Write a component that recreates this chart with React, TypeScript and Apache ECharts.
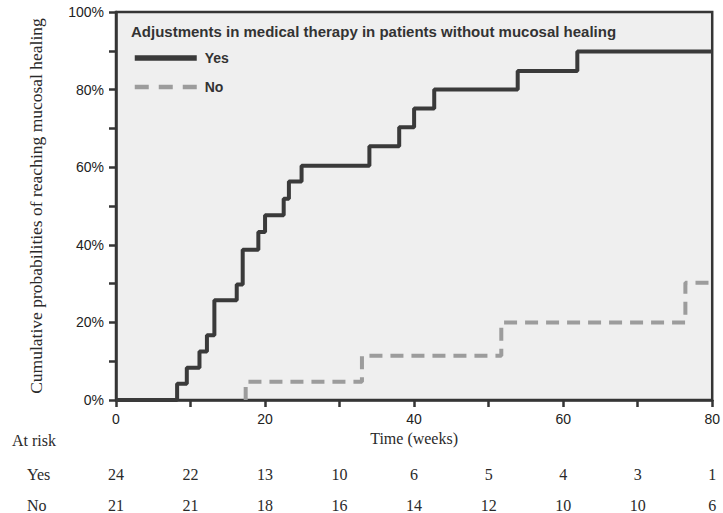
import React, { useEffect, useRef } from "react";
import * as echarts from "echarts";

const yesWeeks = [0, 8.2, 9.5, 11.2, 12.2, 13.2, 16.2, 17.0, 19.1, 20.0, 22.5, 23.2, 24.9, 34.0, 38.0, 40.0, 42.7, 53.9, 61.9, 80];
const yesProb = [0, 4.2, 8.3, 12.5, 16.7, 25.7, 29.8, 38.7, 43.3, 47.6, 51.9, 56.3, 60.4, 65.4, 70.3, 75.1, 80.0, 84.8, 89.8, 89.8];
const noWeeks = [17.4, 17.4, 33.0, 51.7, 76.4, 80];
const noProb = [0, 4.7, 11.4, 20.0, 30.2, 30.2];
const riskTicks = [0, 10, 20, 30, 40, 50, 60, 70, 80];
const yesAtRisk = [24, 22, 13, 10, 6, 5, 4, 3, 1];
const noAtRisk = [21, 21, 18, 16, 14, 12, 10, 10, 6];
const legendTitle = "Adjustments in medical therapy in patients without mucosal healing";

const SANS = "Liberation Sans, Arial, sans-serif";
const SERIF = "Liberation Serif, Times New Roman, serif";
const AX = "#353535";

export default function App() {
  const ref = useRef<HTMLDivElement>(null);
  useEffect(() => {
    if (!ref.current) return;
    const chart = echarts.init(ref.current, null, { renderer: "svg" });
    const riskAxis = (vals: number[], offset: number) => ({
      type: "value",
      gridIndex: 0,
      position: "bottom",
      offset,
      min: 0,
      max: 80,
      interval: 10,
      axisLine: { show: false },
      axisTick: { show: false },
      splitLine: { show: false },
      axisLabel: {
        margin: 3,
        fontFamily: SERIF,
        fontSize: 16,
        color: "#2a2a2a",
        formatter: (v: number) => {
          const i = riskTicks.indexOf(v);
          return i >= 0 ? String(vals[i]) : "";
        },
      },
    });
    chart.setOption({
      animation: false,
      backgroundColor: "#ffffff",
      grid: {
        left: 116,
        right: 7,
        top: 12,
        bottom: 113,
        show: true,
        backgroundColor: "#efefef",
        borderColor: AX,
        borderWidth: 2.5,
      },
      title: {
        text: legendTitle,
        left: 126,
        top: 19,
        textStyle: { fontFamily: SANS, fontSize: 15, fontWeight: "bold", color: "#333" },
      },
      legend: {
        orient: "vertical",
        left: 127,
        top: 46,
        itemWidth: 62,
        itemHeight: 14,
        itemGap: 15,
        itemStyle: { opacity: 0 },
        textStyle: { fontFamily: SANS, fontSize: 14, fontWeight: "bold", color: "#333", padding: [0, 0, 0, 3] },
        data: [
          { name: "Yes", lineStyle: { width: 5.5 } },
          { name: "No", lineStyle: { width: 4.5, type: [14, 10] } },
        ],
      },
      xAxis: [
        {
          type: "value",
          min: 0,
          max: 80,
          interval: 10,
          name: "Time (weeks)",
          nameLocation: "middle",
          nameGap: 29,
          nameTextStyle: { fontFamily: SERIF, fontSize: 16, color: "#2a2a2a" },
          axisLine: { lineStyle: { color: AX, width: 2.5 } },
          axisTick: { length: 7, lineStyle: { color: AX, width: 2.5 } },
          splitLine: { show: false },
          axisLabel: {
            margin: 12,
            fontFamily: SANS,
            fontSize: 14,
            color: "#222",
            formatter: (v: number) => (v % 20 === 0 ? String(v) : ""),
          },
        },
        riskAxis(yesAtRisk, 63),
        riskAxis(noAtRisk, 94),
      ],
      yAxis: {
        type: "value",
        min: 0,
        max: 100,
        interval: 10,
        name: "Cumulative probabilities of reaching mucosal healing",
        nameLocation: "middle",
        nameGap: 71,
        nameTextStyle: { fontFamily: SERIF, fontSize: 17.5, color: "#2a2a2a" },
        axisLine: { show: true, lineStyle: { color: AX, width: 2.5 } },
        axisTick: { show: true, length: 7, lineStyle: { color: AX, width: 2.5 } },
        splitLine: { show: false },
        axisLabel: {
          margin: 12,
          fontFamily: SANS,
          fontSize: 14,
          color: "#222",
          formatter: (v: number) => (v % 20 === 0 ? v + "%" : ""),
        },
      },
      graphic: [
        { type: "text", left: 12, top: 432, style: { text: "At risk", font: `16px ${SERIF}`, fill: "#2a2a2a" } },
        { type: "text", left: 27, top: 466, style: { text: "Yes", font: `16px ${SERIF}`, fill: "#2a2a2a" } },
        { type: "text", left: 27, top: 497, style: { text: "No", font: `16px ${SERIF}`, fill: "#2a2a2a" } },
      ],
      series: [
        {
          name: "Yes",
          type: "line",
          step: "end",
          symbol: "none",
          color: "#3a3a3a",
          lineStyle: { color: "#3a3a3a", width: 4 },
          data: yesWeeks.map((w, i) => [w, yesProb[i]]),
        },
        {
          name: "No",
          type: "line",
          step: "end",
          symbol: "none",
          color: "#9c9c9c",
          lineStyle: { color: "#9c9c9c", width: 4, type: [13, 8] },
          data: noWeeks.map((w, i) => [w, noProb[i]]),
        },
      ],
    });
    return () => chart.dispose();
  }, []);
  return <div ref={ref} style={{ position: "absolute", left: 0, top: 0, width: 723, height: 513 }} />;
}
